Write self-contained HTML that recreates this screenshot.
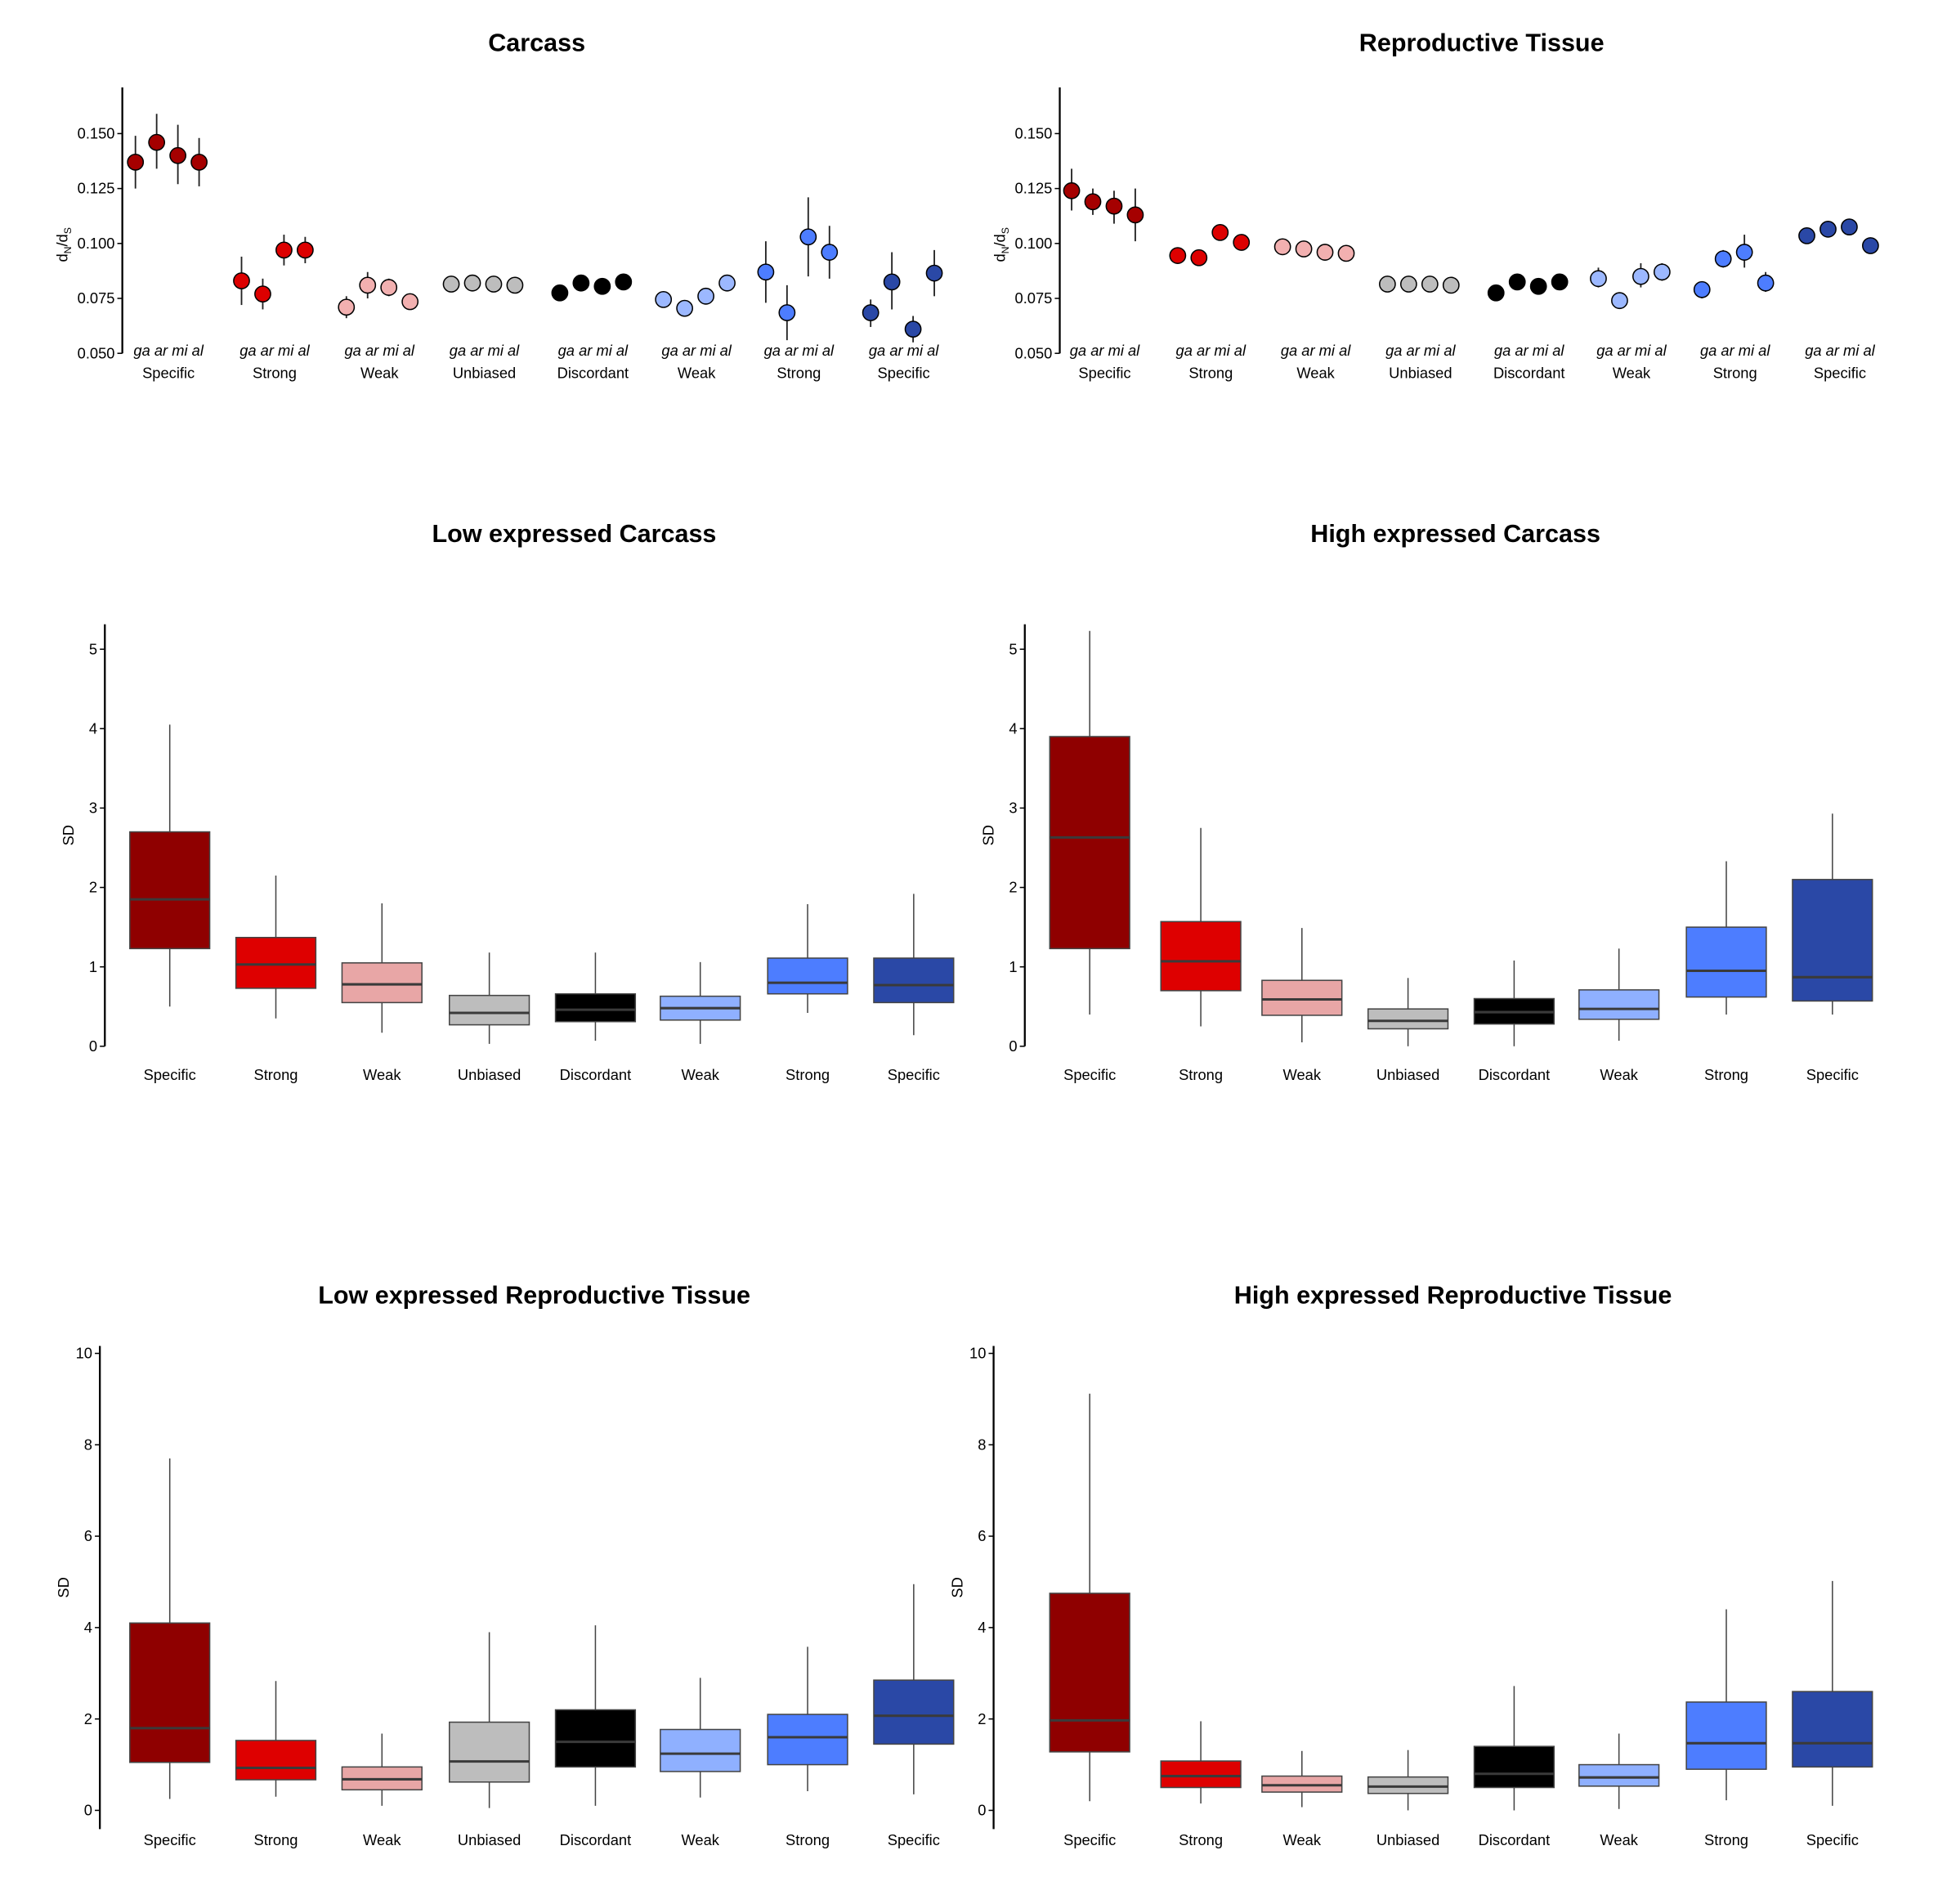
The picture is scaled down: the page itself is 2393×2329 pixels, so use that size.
<!DOCTYPE html>
<html><head><meta charset="utf-8"><style>
html,body{margin:0;padding:0;background:#fff;}
svg{display:block;font-family:"Liberation Sans",Arial,sans-serif;}
</style></head><body>
<svg id="root" width="2393" height="2329" viewBox="0 0 1567 1525" preserveAspectRatio="none" xmlns="http://www.w3.org/2000/svg"></svg>
<script>
const categories = ["Specific","Strong","Weak","Unbiased","Discordant","Weak","Strong","Specific"];
const colors = ["#8f0000","#de0000","#e8a6a6","#bdbdbd","#000000","#8fb0ff","#4d7dff","#2a48a6"];
const dotColors = ["#a50000","#dd0000","#f2b0b0","#bdbdbd","#000000","#9cb8ff","#4d7dff","#2a48a6"];
const species = ["ga","ar","mi","al"];
// dN/dS [value, low, high] per group x species
const carcassDnds = [
 [[0.137,0.125,0.149],[0.146,0.134,0.159],[0.140,0.127,0.154],[0.137,0.126,0.148]],
 [[0.083,0.072,0.094],[0.077,0.070,0.084],[0.097,0.090,0.104],[0.097,0.091,0.103]],
 [[0.071,0.066,0.076],[0.081,0.075,0.087],[0.080,0.076,0.084],[0.0735,0.0735,0.0735]],
 [[0.0815,0.0815,0.0815],[0.082,0.082,0.082],[0.0815,0.0815,0.0815],[0.081,0.081,0.081]],
 [[0.0775,0.0775,0.0775],[0.082,0.082,0.082],[0.0805,0.0805,0.0805],[0.0825,0.0825,0.0825]],
 [[0.0745,0.0745,0.0745],[0.0705,0.0705,0.0705],[0.076,0.076,0.076],[0.082,0.082,0.082]],
 [[0.087,0.073,0.101],[0.0685,0.056,0.081],[0.103,0.085,0.121],[0.096,0.084,0.108]],
 [[0.0685,0.062,0.0745],[0.0825,0.070,0.096],[0.061,0.055,0.067],[0.0865,0.076,0.097]]
];
const reproDnds = [
 [[0.124,0.115,0.134],[0.119,0.113,0.125],[0.117,0.109,0.124],[0.113,0.101,0.125]],
 [[0.0945,0.091,0.098],[0.0935,0.090,0.097],[0.105,0.102,0.108],[0.1005,0.098,0.103]],
 [[0.0985,0.0985,0.0985],[0.0975,0.0975,0.0975],[0.096,0.096,0.096],[0.0955,0.0955,0.0955]],
 [[0.0815,0.0815,0.0815],[0.0815,0.0815,0.0815],[0.0815,0.0815,0.0815],[0.081,0.081,0.081]],
 [[0.0775,0.0775,0.0775],[0.0825,0.0825,0.0825],[0.0805,0.0805,0.0805],[0.0825,0.0825,0.0825]],
 [[0.084,0.080,0.089],[0.074,0.074,0.074],[0.085,0.080,0.091],[0.087,0.083,0.091]],
 [[0.079,0.075,0.082],[0.093,0.089,0.097],[0.096,0.089,0.104],[0.082,0.078,0.087]],
 [[0.1035,0.1035,0.1035],[0.1065,0.1065,0.1065],[0.1075,0.1055,0.1095],[0.099,0.099,0.099]]
];
const dndsTicks = [0.050,0.075,0.100,0.125,0.150];
// boxplot stats [whisLo, q1, median, q3, whisHi]
const lowCarcass = [[0.5,1.23,1.85,2.7,4.05],[0.35,0.73,1.03,1.37,2.15],[0.17,0.55,0.78,1.05,1.8],[0.03,0.27,0.42,0.64,1.18],[0.07,0.31,0.46,0.66,1.18],[0.03,0.33,0.48,0.63,1.06],[0.42,0.66,0.8,1.11,1.79],[0.14,0.55,0.77,1.11,1.92]];
const highCarcass = [[0.4,1.23,2.63,3.9,5.23],[0.25,0.7,1.07,1.57,2.75],[0.05,0.39,0.59,0.83,1.49],[0,0.22,0.32,0.47,0.86],[0,0.28,0.43,0.6,1.08],[0.07,0.34,0.47,0.71,1.23],[0.4,0.62,0.95,1.5,2.33],[0.4,0.57,0.87,2.1,2.93]];
const lowRepro = [[0.25,1.05,1.8,4.1,7.7],[0.3,0.67,0.93,1.53,2.83],[0.1,0.45,0.68,0.95,1.68],[0.05,0.62,1.07,1.93,3.9],[0.1,0.95,1.5,2.2,4.05],[0.28,0.85,1.24,1.77,2.9],[0.42,1.0,1.6,2.1,3.58],[0.35,1.45,2.07,2.85,4.95]];
const highRepro = [[0.2,1.28,1.97,4.75,9.12],[0.15,0.5,0.75,1.08,1.95],[0.07,0.4,0.55,0.75,1.3],[0,0.37,0.52,0.73,1.32],[0,0.5,0.8,1.4,2.72],[0.03,0.53,0.72,1.0,1.68],[0.22,0.9,1.47,2.37,4.4],[0.1,0.95,1.47,2.6,5.02]];
const carcassTicks = [0,1,2,3,4,5];
const reproTicks = [0,2,4,6,8,10];

const NS="http://www.w3.org/2000/svg";
const root=document.getElementById('root');
function el(tag,attrs,parent,text){const e=document.createElementNS(NS,tag);for(const k in attrs)e.setAttribute(k,attrs[k]);if(text!==undefined)e.textContent=text;(parent||root).appendChild(e);return e;}

function title(x,y,t,name){const e=el('text',{x:x,y:y,'text-anchor':'middle','font-size':20,'font-weight':'bold',fill:'#000'},root,t);

}

function dotPanel(name,ax,centers,data,titleTxt,titleX){
  const g=el('g',{});
  
  
  title(titleX,41,titleTxt,name+'-title');
  const y0=283,pxPer=44/0.025;
  const ys=v=>y0-(v-0.05)*pxPer;
  const axis=el('line',{x1:ax,y1:70,x2:ax,y2:283,stroke:'#000','stroke-width':1.5},g);
  
  
  dndsTicks.forEach(t=>{
    el('line',{x1:ax-4,y1:ys(t),x2:ax,y2:ys(t),stroke:'#000'},g);
    const tl=el('text',{x:ax-6,y:ys(t)+4,'text-anchor':'end','font-size':12},g,t.toFixed(3));
    
    
  });
  const yt=el('text',{transform:`translate(${ax-44},196) rotate(-90)`,'text-anchor':'middle','font-size':12},g);
  
  
  el('tspan',{},yt,'d');el('tspan',{'font-size':8,dy:3},yt,'N');el('tspan',{dy:-3},yt,'/d');el('tspan',{'font-size':8,dy:3},yt,'S');
  const offs=[-26.5,-9.5,7.5,24.5];
  categories.forEach((c,i)=>{
    const cx=centers[i];
    const sl=el('text',{x:cx,y:285,'text-anchor':'middle','font-size':12,'font-style':'italic'},g,species.join(' '));
    
    
    const cl=el('text',{x:cx,y:303,'text-anchor':'middle','font-size':12},g,c);
    
    
    data[i].forEach((d,j)=>{
      const x=cx+offs[j];
      if(d[2]>d[1]){const l=el('line',{x1:x,y1:ys(d[1]),x2:x,y2:ys(d[2]),stroke:'#222','stroke-width':1.2},g);
        
        }
      const p=el('circle',{cx:x,cy:ys(d[0]),r:6.3,fill:dotColors[i],stroke:'#000','stroke-width':1},g);
      
      
    });
  });
}

function boxPanel(name,ax,yTop,yBot,y0,pxUnit,ticks,centers,stats,titleTxt,titleX,titleY,labY){
  const g=el('g',{});
  
  
  title(titleX,titleY,titleTxt,name+'-title');
  const ys=v=>y0-v*pxUnit;
  const axis=el('line',{x1:ax,y1:yTop,x2:ax,y2:yBot,stroke:'#000','stroke-width':1.5},g);
  
  
  ticks.forEach(t=>{
    el('line',{x1:ax-4,y1:ys(t),x2:ax,y2:ys(t),stroke:'#000'},g);
    const tl=el('text',{x:ax-6,y:ys(t)+4,'text-anchor':'end','font-size':12},g,String(t));
    
    
  });
  const yt=el('text',{transform:`translate(${ax-25},${(yTop+yBot)/2}) rotate(-90)`,'text-anchor':'middle','font-size':12},g,'SD');
  
  
  const w=64;
  categories.forEach((c,i)=>{
    const cx=centers[i],s=stats[i];
    const wl=el('line',{x1:cx,y1:ys(s[0]),x2:cx,y2:ys(s[4]),stroke:'#444','stroke-width':1},g);
    
    
    const b=el('rect',{x:cx-w/2,y:ys(s[3]),width:w,height:ys(s[1])-ys(s[3]),fill:colors[i],stroke:'#444','stroke-width':1},g);
    
    
    const m=el('line',{x1:cx-w/2,y1:ys(s[2]),x2:cx+w/2,y2:ys(s[2]),stroke:'#3a3a3a','stroke-width':2},g);
    
    
    const cl=el('text',{x:cx,y:labY,'text-anchor':'middle','font-size':12},g,c);
    
    
  });
}

dotPanel('carcass-panel',98,[135,220,304,388,475,558,640,724],carcassDnds,'Carcass',430);
dotPanel('reproductive-panel',849,[885,970,1054,1138,1225,1307,1390,1474],reproDnds,'Reproductive Tissue',1187);
const midL=[136,221,306,392,477,561,647,732], midR=[873,962,1043,1128,1213,1297,1383,1468];
boxPanel('low-carcass-panel',84,500,838,838,63.6,carcassTicks,midL,lowCarcass,'Low expressed Carcass',460,434,865);
boxPanel('high-carcass-panel',821,500,838,838,63.6,carcassTicks,midR,highCarcass,'High expressed Carcass',1166,434,865);
boxPanel('low-repro-panel',80,1078,1465,1450,36.6,reproTicks,midL,lowRepro,'Low expressed Reproductive Tissue',428,1044,1478);
boxPanel('high-repro-panel',796,1078,1465,1450,36.6,reproTicks,midR,highRepro,'High expressed Reproductive Tissue',1164,1044,1478);
</script>
</body></html>
